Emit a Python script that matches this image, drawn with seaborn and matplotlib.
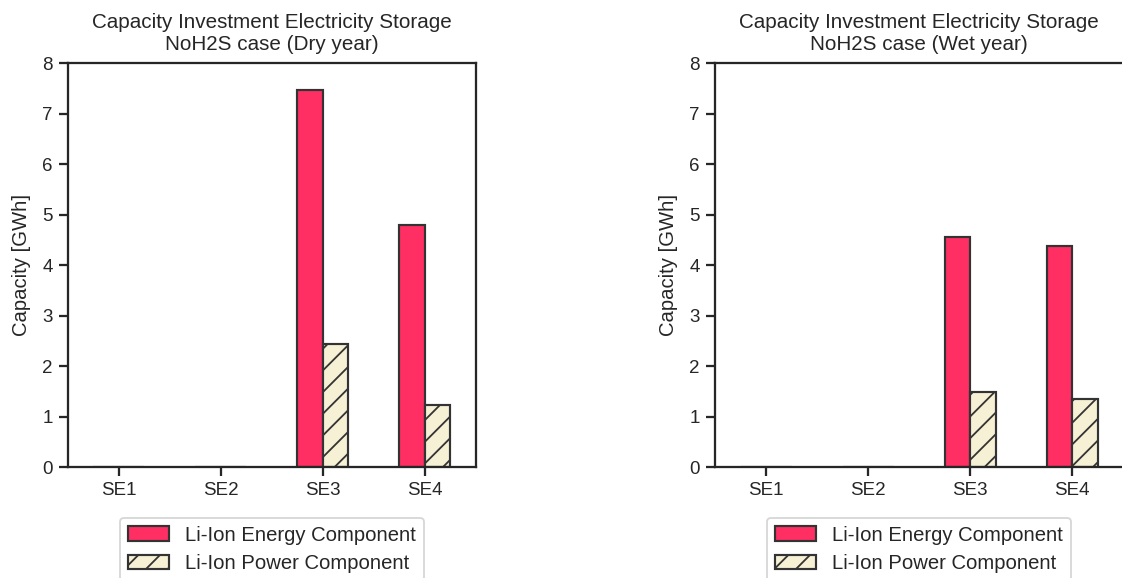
import numpy as np
import pandas as pd
import seaborn as sns
import matplotlib.pyplot as plt
from matplotlib.patches import Patch

# Data
regions = ['SE1', 'SE2', 'SE3', 'SE4']
components = ['Li-Ion Energy Component', 'Li-Ion Power Component']
dry_energy = [0.0, 0.0, 7.46, 4.79]
dry_power = [0.0, 0.0, 2.43, 1.22]
wet_energy = [0.0, 0.0, 4.55, 4.37]
wet_power = [0.0, 0.0, 1.48, 1.35]
titles = ['Capacity Investment Electricity Storage\nNoH2S case (Dry year)',
          'Capacity Investment Electricity Storage\nNoH2S case (Wet year)']

colors = ['#FF2E63', '#F6F0D5']
hatches = ['', '//']
edge = '#333333'

sns.set_theme(style='ticks')
plt.rcParams['font.family'] = ['Liberation Sans', 'DejaVu Sans']
plt.rcParams['hatch.color'] = edge
plt.rcParams['hatch.linewidth'] = 1.0


def make_frame(energy, power):
    df = pd.DataFrame({'region': regions * 2,
                       'capacity': energy + power,
                       'component': [components[0]] * 4 + [components[1]] * 4})
    return df


frames = [make_frame(dry_energy, dry_power), make_frame(wet_energy, wet_power)]

fig = plt.figure(figsize=(1122 / 130, 578 / 130), dpi=130)
ax_left = fig.add_axes([0.0606, 0.192, 0.3636, 0.699])
ax_right = fig.add_axes([0.6373, 0.192, 0.3636, 0.699])

for ax, df, title in zip([ax_left, ax_right], frames, titles):
    sns.barplot(data=df, x='region', y='capacity', hue='component',
                palette=colors, saturation=1, width=0.5, errorbar=None,
                edgecolor=edge, linewidth=1.2, legend=False, ax=ax)
    for cont, h in zip(ax.containers, hatches):
        for bar in cont:
            bar.set_hatch(h)
    ax.set_ylim(0, 8)
    ax.set_yticks(range(0, 9))
    ax.set_xlim(-0.5, 3.5)
    ax.set_xlabel('')
    ax.set_ylabel('Capacity [GWh]', fontsize=11.2, labelpad=6)
    ax.set_title(title, fontsize=11.4, pad=7)
    ax.tick_params(labelsize=10.4, length=5, width=1.25)
    for sp in ax.spines.values():
        sp.set_linewidth(1.25)
        sp.set_color('#262626')
    handles = [Patch(facecolor=c, edgecolor=edge, hatch=h, linewidth=1.2, label=l)
               for c, h, l in zip(colors, hatches, components)]
    ax.legend(handles=handles, loc='upper center', bbox_to_anchor=(0.5, -0.1),
              fontsize=11.2, frameon=True, labelspacing=0.45)

fig.savefig('out.png', dpi=130)
